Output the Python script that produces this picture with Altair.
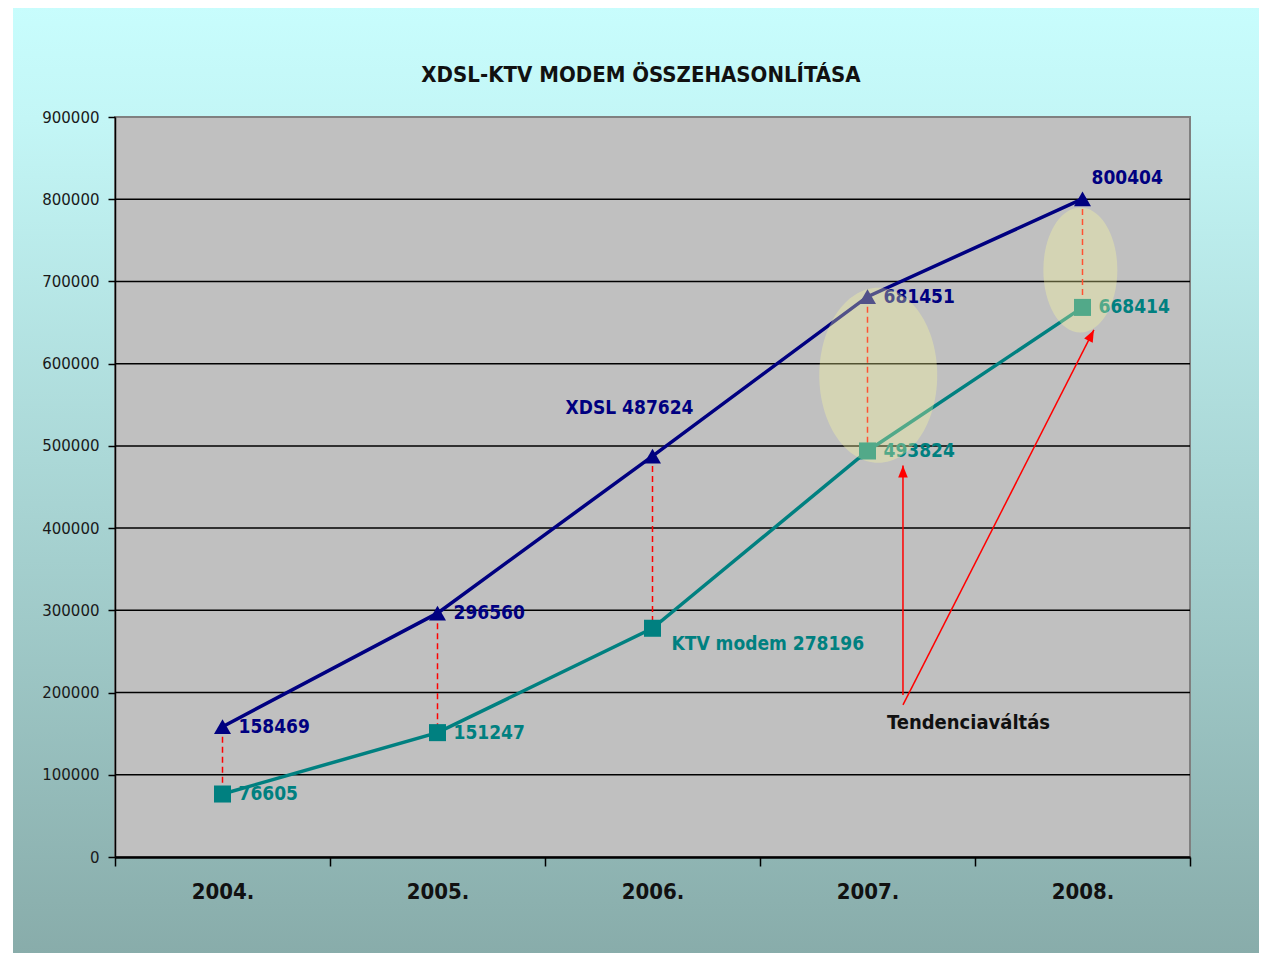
import altair as alt
import pandas as pd

# ---------------- data ----------------
years = ["2004.", "2005.", "2006.", "2007.", "2008."]
xdsl = [158469, 296560, 487624, 681451, 800404]
ktv = [76605, 151247, 278196, 493824, 668414]
series_names = ["XDSL", "KTV modem"]
xdsl_labels = ["158469", "296560", "XDSL 487624", "681451", "800404"]
ktv_labels = ["76605", "151247", "KTV modem 278196", "493824", "668414"]
y_ticks = [0, 100000, 200000, 300000, 400000, 500000, 600000, 700000, 800000, 900000]
grid_values = [100000, 200000, 300000, 400000, 500000, 600000, 700000, 800000]

title_text = "XDSL-KTV MODEM ÖSSZEHASONLÍTÁSA"
note_text = "Tendenciaváltás"
note_pos = [3.47]
note_val = [163000]

# highlight ellipses (position in year-index units, centre value)
ellipse_pos = [3.05, 3.99]
ellipse_val = [586000, 714000]

# arrows from the note to the points where the trend changes
arrow_from_pos = [3.165, 3.165]
arrow_from_val = [197000, 185000]
arrow_to_pos = [3.165, 4.053]
arrow_to_val = [476000, 641000]
arrow_angle = [0, 27]

# ---------------- style ----------------
W, H = 1075, 740
NAVY = "#000080"
TEAL = "#008080"
FONT_N = "Liberation Sans Narrow, Arial Narrow, DejaVu Sans Condensed, Liberation Sans"

xdsl_dx = [16, 16, -23, 16, 9]
xdsl_dy = [0, 0, -48, 0, -21]
xdsl_align = ["left", "left", "center", "left", "left"]
ktv_dx = [16, 16, 19, 16, 16]
ktv_dy = [0, 0, 16, 0, 0]
ktv_align = ["left", "left", "left", "left", "left"]

ellipse_k = [0.674, 0.592]
ellipse_size = [175 ** 2, 125 ** 2]

# ---------------- tables ----------------
df = pd.DataFrame({"year": years, "xdsl": xdsl, "ktv": ktv})
long = pd.DataFrame({
    "year": years * 2,
    "series": [series_names[0]] * len(years) + [series_names[1]] * len(years),
    "value": xdsl + ktv,
})
grid_df = pd.DataFrame({"v": grid_values})
one = pd.DataFrame({"a": [0]})

yscale = alt.Scale(domain=[0, 900000], nice=False, zero=True)
yaxis = alt.Axis(values=y_ticks, format="d", grid=False, orient="left",
                 domainColor="black", domainWidth=1.5, tickColor="black",
                 tickWidth=1.5, tickSize=7, labelFont="DejaVu Sans",
                 labelFontSize=15, labelColor="#1a1a1a", labelPadding=9,
                 title=None, zindex=1)
xscale = alt.Scale(domain=years, paddingInner=0, paddingOuter=0)
xaxis = alt.Axis(title=None, labelAngle=0, tickBand="extent", grid=False,
                 orient="bottom", domainColor="black", domainWidth=2.5,
                 tickColor="black", tickWidth=1.5, tickSize=9,
                 labelFont=FONT_N, labelFontSize=22, labelFontWeight="bold",
                 labelColor="#111111", labelPadding=15, zindex=1)
ann = alt.Scale(domain=[-0.5, 4.5], nice=False, zero=False)
color_scale = alt.Scale(domain=series_names, range=[NAVY, TEAL])


def Y(field):
    return alt.Y(field, type="quantitative", scale=yscale, axis=yaxis)


def Xb(axis=None):
    return alt.X("year:N", scale=xscale, axis=axis, sort=years)


# ---------------- layers ----------------
bg = alt.Chart(one).mark_rect(
    color=alt.LinearGradient(
        gradient="linear",
        stops=[alt.GradientStop(color="#c8fdfd", offset=0),
               alt.GradientStop(color="#c3f6f6", offset=0.12),
               alt.GradientStop(color="#88acaa", offset=1)],
        x1=0, x2=0, y1=0, y2=1)
).encode(x=alt.value(-102), x2=alt.value(W + 80), y=alt.value(-112), y2=alt.value(H + 100))

plot_bg = alt.Chart(one).mark_rect(fill="#c0c0c0", stroke="#808080", strokeWidth=2).encode(
    x=alt.value(0), x2=alt.value(W), y=alt.value(0), y2=alt.value(H))

grid = alt.Chart(grid_df).mark_rule(color="black", strokeWidth=1.5).encode(
    y=Y("v"), x=alt.value(0), x2=alt.value(W))

drops = alt.Chart(df).mark_rule(color="#ff0000", strokeWidth=1.5, strokeDash=[6, 4]).encode(
    x=Xb(xaxis), y=Y("xdsl"), y2="ktv")

lines = alt.Chart(long).mark_line(strokeWidth=3.5).encode(
    x=Xb(), y=Y("value"),
    color=alt.Color("series:N", scale=color_scale, legend=None),
    detail="series:N")

points = alt.Chart(long).mark_point(filled=True, opacity=1, size=290).encode(
    x=Xb(), y=Y("value"),
    color=alt.Color("series:N", scale=color_scale, legend=None),
    shape=alt.Shape("series:N", scale=alt.Scale(domain=series_names, range=["triangle-up", "square"]), legend=None))

label_layers = []
for vals, labs, dxs, dys, als, col in [
    (xdsl, xdsl_labels, xdsl_dx, xdsl_dy, xdsl_align, NAVY),
    (ktv, ktv_labels, ktv_dx, ktv_dy, ktv_align, TEAL),
]:
    for i in range(len(years)):
        d = pd.DataFrame({"year": [years[i]], "value": [vals[i]], "label": [labs[i]]})
        label_layers.append(
            alt.Chart(d).mark_text(font=FONT_N, fontSize=19, fontWeight="bold", color=col,
                                   dx=dxs[i], dy=dys[i], align=als[i], baseline="middle").encode(
                x=Xb(), y=Y("value"), text="label:N"))

ellipses = []
for i in range(len(ellipse_pos)):
    k = ellipse_k[i]
    path = f"M{-k},0 A{k},1 0 1,1 {k},0 A{k},1 0 1,1 {-k},0 Z"
    d = pd.DataFrame({"p": [ellipse_pos[i]], "v": [ellipse_val[i]]})
    ellipses.append(alt.Chart(d).mark_point(shape=path, filled=True, size=ellipse_size[i],
                                            color="#ffff9a", opacity=0.32, strokeWidth=0).encode(
        x=alt.X("p:Q", scale=ann, axis=None), y=Y("v")))

arrows_df = pd.DataFrame({"x0": arrow_from_pos, "y0": arrow_from_val,
                          "x1": arrow_to_pos, "y1": arrow_to_val, "ang": arrow_angle})
arrow_lines = alt.Chart(arrows_df).mark_rule(color="#ff0000", strokeWidth=1.5).encode(
    x=alt.X("x0:Q", scale=ann, axis=None), x2="x1:Q", y=Y("y0"), y2="y1:Q")
arrow_heads = alt.Chart(arrows_df).mark_point(shape="M0,0 L0.4,1 L-0.4,1 Z", filled=True,
                                              size=576, color="#ff0000", opacity=1, strokeWidth=0).encode(
    x=alt.X("x1:Q", scale=ann, axis=None), y=Y("y1"),
    angle=alt.Angle("ang:Q", scale=None))

note = alt.Chart(pd.DataFrame({"p": note_pos, "v": note_val, "t": [note_text]})).mark_text(
    font=FONT_N, fontSize=20, fontWeight="bold", color="#111111", align="center", baseline="middle").encode(
    x=alt.X("p:Q", scale=ann, axis=None), y=Y("v"), text="t:N")

title = alt.Chart(pd.DataFrame({"t": [title_text]})).mark_text(
    font=FONT_N, fontSize=22, fontWeight="bold", color="#111111", align="center", baseline="middle").encode(
    x=alt.value(526), y=alt.value(-42), text="t:N")

chart = alt.layer(
    bg, plot_bg, grid, drops, lines, points, *label_layers, *ellipses,
    arrow_lines, arrow_heads, note, title
).resolve_scale(x="independent").properties(
    width=W, height=H,
    autosize=alt.AutoSizeParams(type="none"),
    padding={"left": 107, "top": 109, "right": 69, "bottom": 96},
    background="white",
).configure_view(stroke=None)

chart.save("out.html", embed_options={"renderer": "svg", "actions": False})
